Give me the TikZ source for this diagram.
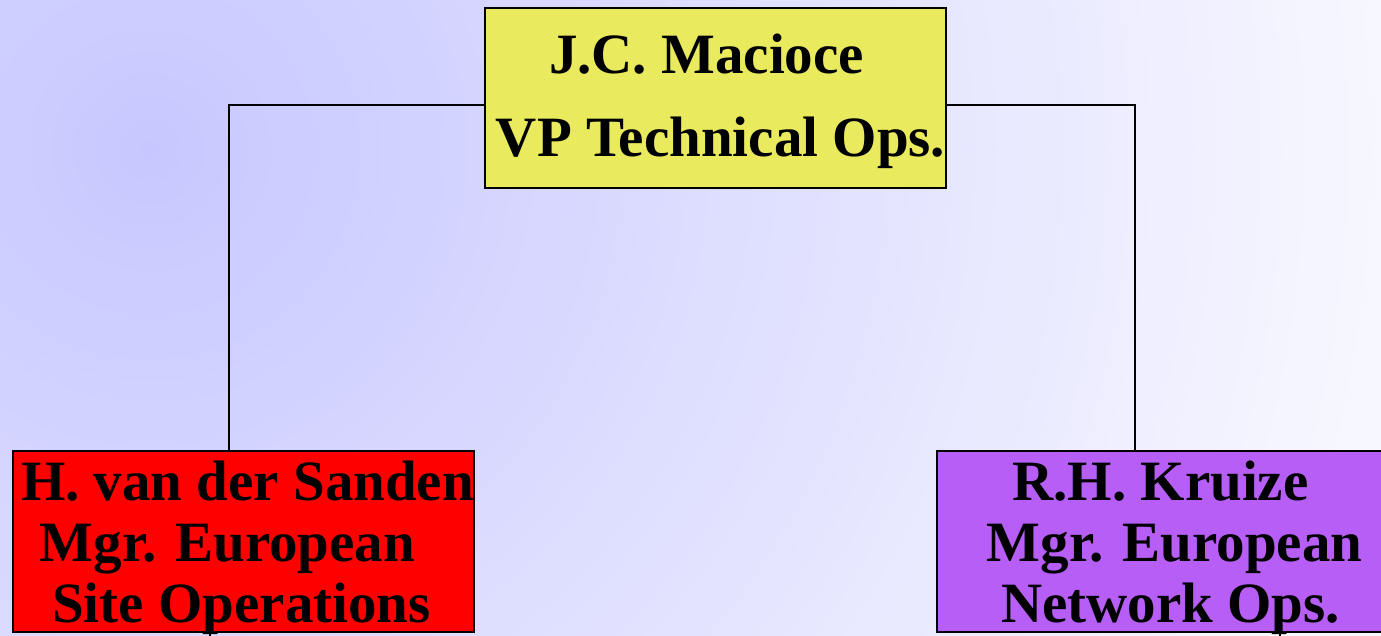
\documentclass[tikz,border=0pt]{standalone}
\usepackage{fontspec}
\setmainfont{Liberation Serif}
\definecolor{bgInner}{RGB}{199,199,255}
\definecolor{bgOuter}{RGB}{247,247,255}
\definecolor{vpYellow}{RGB}{234,234,94}
\definecolor{siteRed}{RGB}{255,0,0}
\definecolor{netPurple}{RGB}{183,94,246}
\tikzset{
  orgbox/.style={draw=black, line width=2pt, minimum width=461pt, minimum height=181pt,
    inner sep=0pt, align=center, text=black, text height=171pt, text depth=10pt,
    font=\fontsize{57}{61}\selectfont\bfseries},
  link/.style={draw=black, line width=1.6pt}
}
\begin{document}
\begin{tikzpicture}[x=1pt,y=-1pt]
  \useasboundingbox (0,0) rectangle (1381,636);
  % soft wash that lightens evenly away from the upper left, in rings
  \begin{scope}
    \clip (0,0) rectangle (1381,636);
    \fill[bgOuter] (0,0) rectangle (1381,636);
    \foreach \k in {0,...,60} {
      \pgfmathsetmacro\ringr{1330-\k*22}
      \pgfmathsetmacro\ringf{min(100,\ringr/12.4)}
      \fill[bgOuter!\ringf!bgInner] (150,150) circle (\ringr);
    }
  \end{scope}
  % corners of the reporting lines and the stubs leaving the lower boxes
  \coordinate (lcorner) at (229,105);
  \coordinate (rcorner) at (1135,105);
  \coordinate (sitestub) at (210,650);
  \coordinate (netstub) at (1280,650);
  % boxes
  \node[orgbox, fill=vpYellow, minimum height=180pt, text height=149pt, text depth=31pt] (vp) at (715.5,98)
    {J.C. Macioce\hspace*{18pt}\mbox{}\\[22pt]\hspace*{10pt}VP Technical Ops.};
  \node[orgbox, fill=siteRed] (site) at (243.5,541.5)
    {\hspace*{8pt}H. van der Sanden\\Mgr. European\hspace*{32pt}\mbox{}\\Site Operations\hspace*{4pt}\mbox{}};
  \node[orgbox, fill=netPurple] (net) at (1167.5,541.5)
    {R.H. Kruize\hspace*{14pt}\mbox{}\\\hspace*{14pt}Mgr. European\\\hspace*{6pt}Network Ops.};
  % reporting lines
  \draw[link] (vp.west |- lcorner) -- (lcorner) -- (lcorner |- site.north);
  \draw[link] (vp.east |- rcorner) -- (rcorner) -- (rcorner |- net.north);
  \draw[link] (sitestub |- site.south) -- (sitestub);
  \draw[link] (netstub |- net.south) -- (netstub);
\end{tikzpicture}
\end{document}
